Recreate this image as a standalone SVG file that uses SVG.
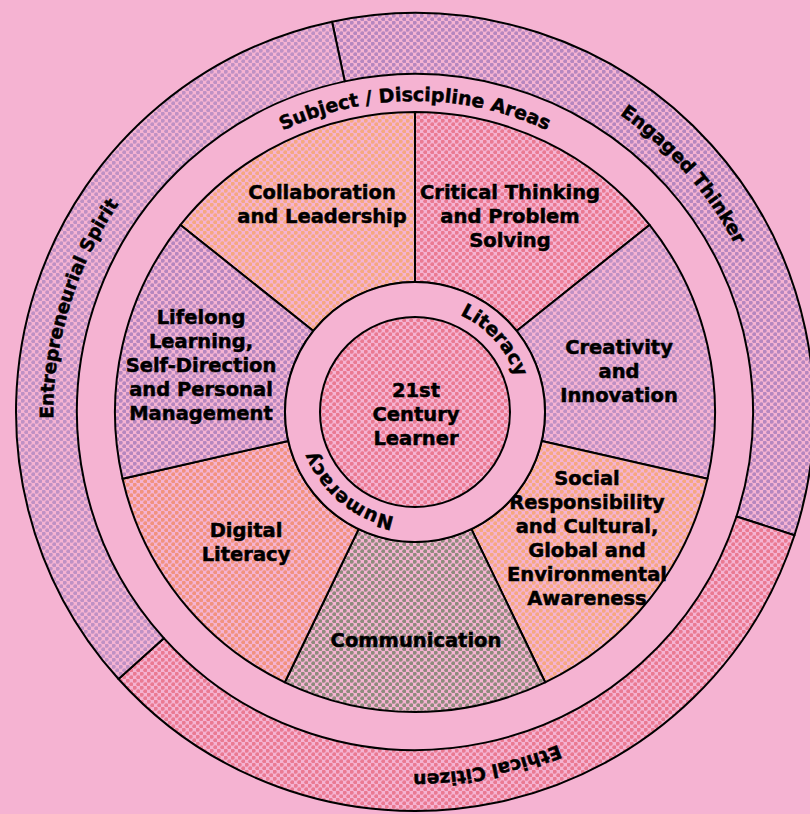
<svg xmlns="http://www.w3.org/2000/svg" xmlns:xlink="http://www.w3.org/1999/xlink" width="810" height="814" viewBox="0 0 810 814">
<defs>
<style>
.ln{stroke:#000;stroke-width:2;stroke-linejoin:round}
.t{font-family:"DejaVu Sans","Liberation Sans",sans-serif;font-weight:700;font-size:19.5px;fill:#000;stroke:#000;stroke-width:0.5px;text-anchor:middle}
.ct{font-family:"DejaVu Sans","Liberation Sans",sans-serif;font-weight:700;font-size:18.5px;fill:#000;stroke:#000;stroke-width:0.5px}
.ci{font-family:"DejaVu Sans","Liberation Sans",sans-serif;font-weight:700;font-size:19px;fill:#000;stroke:#000;stroke-width:0.5px}
</style>
<pattern id="pPurple" width="7" height="7" patternUnits="userSpaceOnUse"><rect width="7" height="7" fill="#f5b3d2"/><circle cx="1.75" cy="1.75" r="2" fill="#b687bf"/><circle cx="5.25" cy="5.25" r="2" fill="#b687bf"/></pattern>
<pattern id="pLilac" width="7" height="7" patternUnits="userSpaceOnUse"><rect width="7" height="7" fill="#f5b3d2"/><circle cx="1.75" cy="1.75" r="2" fill="#bf91c4"/><circle cx="5.25" cy="5.25" r="2" fill="#bf91c4"/></pattern>
<pattern id="pRed" width="7" height="7" patternUnits="userSpaceOnUse"><rect width="7" height="7" fill="#f5b3d2"/><circle cx="1.75" cy="1.75" r="2" fill="#ea7a92"/><circle cx="5.25" cy="5.25" r="2" fill="#ea7a92"/></pattern>
<pattern id="pOrange" width="7" height="7" patternUnits="userSpaceOnUse"><rect width="7" height="7" fill="#f5b3d2"/><circle cx="1.75" cy="1.75" r="2" fill="#f5a880"/><circle cx="5.25" cy="5.25" r="2" fill="#f5a880"/></pattern>
<pattern id="pCoral" width="7" height="7" patternUnits="userSpaceOnUse"><rect width="7" height="7" fill="#f5b3d2"/><circle cx="1.75" cy="1.75" r="2" fill="#f1927e"/><circle cx="5.25" cy="5.25" r="2" fill="#f1927e"/></pattern>
<pattern id="pGray" width="7" height="7" patternUnits="userSpaceOnUse"><rect width="7" height="7" fill="#f5b3d2"/><circle cx="1.75" cy="1.75" r="2" fill="#8f8b7d"/><circle cx="5.25" cy="5.25" r="2" fill="#8f8b7d"/></pattern>
<path id="arcSubject" d="M415,723 A311,311 0 1 1 415,101 A311,311 0 1 1 415,723"/>
<path id="arcLiteracy" d="M335.5,483.6 A106,106 0 1 1 494.5,340.4 A106,106 0 1 1 335.5,483.6"/>
<path id="arcNumeracy" d="M483.8,330 A106,106 0 1 1 346.2,494 A106,106 0 1 1 483.8,330"/>
<path id="arcEngaged" d="M144.6,651.2 A361,361 0 1 1 685.4,172.8 A361,361 0 1 1 144.6,651.2"/>
<path id="arcEntre" d="M760.2,517.6 A361,361 0 1 1 69.8,306.4 A361,361 0 1 1 760.2,517.6"/>
<path id="arcEthical" d="M343,58.3 A361,361 0 1 1 487,765.7 A361,361 0 1 1 343,58.3"/>
</defs>
<rect width="810" height="814" fill="#f5b3d2"/>

<g id="outer-ring">
<g id="engaged-thinker">
<path class="ln" fill="url(#pPurple)" d="M344.73,81.39 L332.04,21.72 A399,399 0 0 1 794.47,535.3 L736.46,516.45 A338,338 0 0 0 344.73,81.39 Z"/>
<text class="ct"><textPath xlink:href="#arcEngaged" href="#arcEngaged" startOffset="50%" text-anchor="middle">Engaged Thinker</textPath></text>
</g>
<g id="ethical-citizen">
<path class="ln" fill="url(#pRed)" d="M736.46,516.45 L794.47,535.3 A399,399 0 0 1 118.49,678.98 L163.82,638.17 A338,338 0 0 0 736.46,516.45 Z"/>
<text class="ct"><textPath xlink:href="#arcEthical" href="#arcEthical" startOffset="50%" text-anchor="middle">Ethical Citizen</textPath></text>
</g>
<g id="entrepreneurial-spirit">
<path class="ln" fill="url(#pLilac)" d="M163.82,638.17 L118.49,678.98 A399,399 0 0 1 332.04,21.72 L344.73,81.39 A338,338 0 0 0 163.82,638.17 Z"/>
<text class="ct"><textPath xlink:href="#arcEntre" href="#arcEntre" startOffset="50%" text-anchor="middle">Entrepreneurial Spirit</textPath></text>
</g>
</g>

<g id="subject-areas">
<text class="ci"><textPath xlink:href="#arcSubject" href="#arcSubject" startOffset="50%" text-anchor="middle">Subject / Discipline Areas</textPath></text>
</g>

<g id="collaboration">
<path class="ln" fill="url(#pOrange)" d="M313.36,330.95 L180.45,224.95 A300,300 0 0 1 415,112 L415,282 A130,130 0 0 0 313.36,330.95 Z"/>
<text class="t" x="322" y="199">Collaboration<tspan x="322" y="223">and Leadership</tspan></text>
</g>
<g id="critical-thinking">
<path class="ln" fill="url(#pRed)" d="M415,282 L415,112 A300,300 0 0 1 649.55,224.95 L516.64,330.95 A130,130 0 0 0 415,282 Z"/>
<text class="t" x="510" y="199">Critical Thinking<tspan x="510" y="223">and Problem</tspan><tspan x="510" y="247">Solving</tspan></text>
</g>
<g id="creativity">
<path class="ln" fill="url(#pLilac)" d="M516.64,330.95 L649.55,224.95 A300,300 0 0 1 707.48,478.76 L541.74,440.93 A130,130 0 0 0 516.64,330.95 Z"/>
<text class="t" x="619" y="354">Creativity<tspan x="619" y="378">and</tspan><tspan x="619" y="402">Innovation</tspan></text>
</g>
<g id="social-responsibility">
<path class="ln" fill="url(#pOrange)" d="M541.74,440.93 L707.48,478.76 A300,300 0 0 1 545.16,682.29 L471.4,529.13 A130,130 0 0 0 541.74,440.93 Z"/>
<text class="t" x="587" y="485">Social<tspan x="587" y="509">Responsibility</tspan><tspan x="587" y="533">and Cultural,</tspan><tspan x="587" y="557">Global and</tspan><tspan x="587" y="581">Environmental</tspan><tspan x="587" y="605">Awareness</tspan></text>
</g>
<g id="communication">
<path class="ln" fill="url(#pGray)" d="M471.4,529.13 L545.16,682.29 A300,300 0 0 1 284.84,682.29 L358.6,529.13 A130,130 0 0 0 471.4,529.13 Z"/>
<text class="t" x="416" y="647">Communication</text>
</g>
<g id="digital-literacy">
<path class="ln" fill="url(#pCoral)" d="M358.6,529.13 L284.84,682.29 A300,300 0 0 1 122.52,478.76 L288.26,440.93 A130,130 0 0 0 358.6,529.13 Z"/>
<text class="t" x="246" y="537">Digital<tspan x="246" y="561">Literacy</tspan></text>
</g>
<g id="lifelong-learning">
<path class="ln" fill="url(#pPurple)" d="M288.26,440.93 L122.52,478.76 A300,300 0 0 1 180.45,224.95 L313.36,330.95 A130,130 0 0 0 288.26,440.93 Z"/>
<text class="t" x="201" y="324">Lifelong<tspan x="201" y="348">Learning,</tspan><tspan x="201" y="372">Self-Direction</tspan><tspan x="201" y="396">and Personal</tspan><tspan x="201" y="420">Management</tspan></text>
</g>

<g id="literacy-numeracy-ring">
<circle class="ln" cx="415" cy="412" r="130" fill="#f5b3d2"/>
<text class="ci"><textPath xlink:href="#arcLiteracy" href="#arcLiteracy" startOffset="50%" text-anchor="middle">Literacy</textPath></text>
<text class="ci"><textPath xlink:href="#arcNumeracy" href="#arcNumeracy" startOffset="50%" text-anchor="middle">Numeracy</textPath></text>
</g>

<g id="center-learner">
<circle class="ln" cx="415" cy="412" r="95" fill="url(#pRed)"/>
<text class="t" x="416" y="397">21st<tspan x="416" y="421">Century</tspan><tspan x="416" y="445">Learner</tspan></text>
</g>
</svg>
